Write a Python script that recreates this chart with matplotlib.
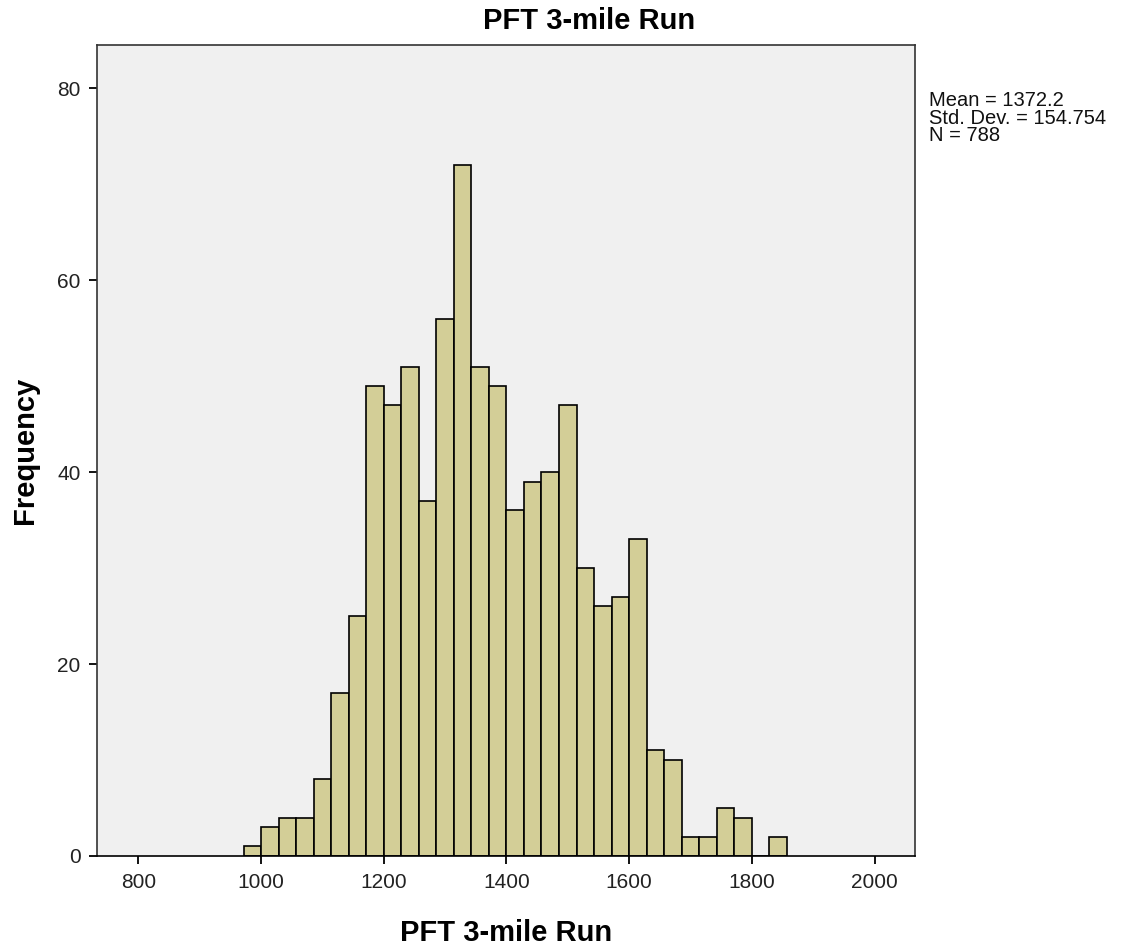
import numpy as np
import matplotlib
matplotlib.use("Agg")
import matplotlib.pyplot as plt

plt.rcParams['font.family'] = ['Liberation Sans', 'DejaVu Sans']

# Histogram of 3-mile run times (seconds)
counts = [1, 3, 4, 4, 8, 17, 25, 49, 47, 51, 37, 56, 72, 51, 49, 36,
          39, 40, 47, 30, 26, 27, 33, 11, 10, 2, 2, 5, 4, 0, 2]
bin_width = 200 / 7
first_edge = 1000 - bin_width
x_ticks = [800, 1000, 1200, 1400, 1600, 1800, 2000]
y_ticks = [0, 20, 40, 60, 80]
stats_lines = ["Mean = 1372.2", "Std. Dev. = 154.754", "N = 788"]

fig = plt.figure(figsize=(11.26, 9.51), dpi=100)
ax = fig.add_axes([0.0864, 0.0999, 0.7262, 0.8528])
ax.set_facecolor('#F0F0F0')

lefts = first_edge + bin_width * np.arange(len(counts))
ax.bar(lefts, counts, width=bin_width, align='edge',
       color='#D3CE97', edgecolor='black', linewidth=1.2, zorder=2)

ax.set_xlim(733, 2066)
ax.set_ylim(0, 84.5)
ax.set_xticks(x_ticks)
ax.set_yticks(y_ticks)
ax.tick_params(axis='both', direction='out', length=6, width=1.3,
               labelsize=15, colors='black', labelcolor='#222222', pad=6)

for s in ax.spines.values():
    s.set_linewidth(1.2)
    s.set_color('#333333')
ax.spines['bottom'].set_color('black')
ax.spines['bottom'].set_zorder(3)

ax.set_xlabel("PFT 3-mile Run", fontsize=21, fontweight='bold', labelpad=20)
ax.set_ylabel("Frequency", fontsize=21, fontweight='bold', labelpad=13)

fig.text(589 / 1126, 1 - 21 / 951, "PFT 3-mile Run", fontsize=21,
         fontweight='bold', ha='center', va='center')

fig.text(929 / 1126, 1 - 91 / 951, "\n".join(stats_lines), fontsize=14.5,
         ha='left', va='top', linespacing=0.9, color='#111111')

fig.savefig("out.png", dpi=100, facecolor='white')
